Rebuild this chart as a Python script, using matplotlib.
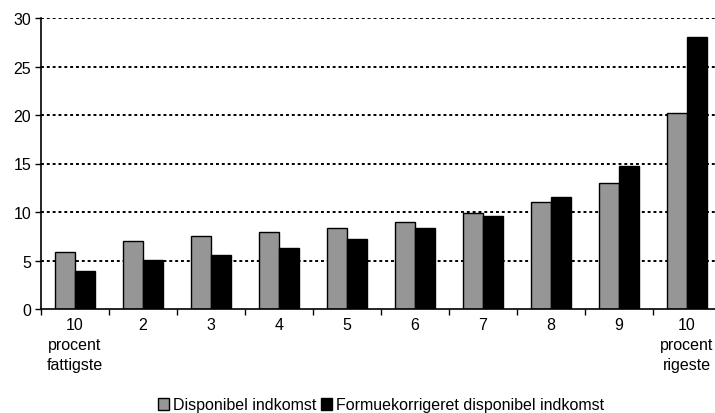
import matplotlib
matplotlib.use("Agg")
import matplotlib.pyplot as plt
from matplotlib.patches import Patch
import numpy as np

plt.rcParams["font.family"] = ["Liberation Sans", "DejaVu Sans"]

categories = ["10\nprocent\nfattigste", "2", "3", "4", "5", "6", "7", "8", "9",
              "10\nprocent\nrigeste"]
disponibel = [5.9, 7.0, 7.5, 7.9, 8.35, 9.0, 9.9, 11.05, 13.0, 20.2]
formuekorrigeret = [3.9, 5.1, 5.6, 6.3, 7.2, 8.3, 9.6, 11.5, 14.7, 28.0]
series_names = ["Disponibel indkomst", "Formuekorrigeret disponibel indkomst"]
yticks = [0, 5, 10, 15, 20, 25, 30]

FS = 11.5

fig = plt.figure(figsize=(7.15, 4.14), dpi=100)
ax = fig.add_axes([41 / 715, 104 / 414, 680 / 715, 291 / 414])

x = np.arange(len(categories))
w = 0.287
ax.bar(x - w / 2, disponibel, width=w, color="#969696", edgecolor="black",
       linewidth=1.0, zorder=3)
ax.bar(x + w / 2, formuekorrigeret, width=w, color="black", edgecolor="black",
       linewidth=1.0, zorder=3)

ax.set_xlim(-0.5, len(categories) - 0.5)
ax.set_ylim(0, 30)
ax.set_yticks(yticks)
ax.tick_params(axis="y", direction="out", length=4, width=1, labelsize=FS,
               pad=3)

# category separators as major ticks, labels on minor ticks at centres
ax.set_xticks(np.arange(len(categories) + 1) - 0.5)
ax.set_xticklabels([])
ax.set_xticks(x, minor=True)
ax.set_xticklabels(categories, minor=True, fontsize=FS, linespacing=1.4)
ax.tick_params(axis="x", which="major", direction="out", length=4, width=1)
ax.tick_params(axis="x", which="minor", length=0, pad=6)

for y in yticks[1:]:
    ax.axhline(y, color="black", linestyle=(0, (1.5, 1.5)), linewidth=1.4,
               zorder=1)

for s in ["top", "right"]:
    ax.spines[s].set_visible(False)
for s in ["left", "bottom"]:
    ax.spines[s].set_linewidth(1.2)
    ax.spines[s].set_zorder(4)

handles = [Patch(facecolor="#969696", edgecolor="black", linewidth=1.0),
           Patch(facecolor="black", edgecolor="black", linewidth=1.0)]
fig.legend(handles, series_names, loc="center",
           bbox_to_anchor=(381 / 715, 1 - 406 / 414), ncol=2, frameon=False,
           fontsize=FS, handlelength=0.7, handleheight=0.7,
           handletextpad=0.25, columnspacing=0.3, borderpad=0)

fig.savefig("out.png", dpi=100)
